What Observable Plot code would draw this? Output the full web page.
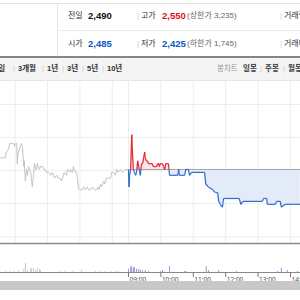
<!DOCTYPE html>
<html><head><meta charset="utf-8">
<script src="https://cdn.jsdelivr.net/npm/d3@7"></script>
<script src="https://cdn.jsdelivr.net/npm/@observablehq/plot@0.6"></script>
<style>
body{margin:0;background:#fff;}
#root{position:relative;width:300px;height:300px;overflow:hidden;font-family:"Liberation Sans","Noto Sans CJK KR",sans-serif;background:#fff;}
.t{position:absolute;white-space:nowrap;line-height:1;transform:translateY(-50%);}
.ln{position:absolute;}
.lab{font-size:8px;color:#333;}
.num{font-size:9.5px;font-weight:bold;color:#111;}
.sub{font-size:8px;color:#666;}
.sep{font-size:8px;color:#ccc;}
.tb{font-size:7.5px;font-weight:bold;color:#333;}
.tbl{font-size:7.5px;color:#999;}
.up{color:#e0101e;}
.dn{color:#0b55c8;}
#price,#vol{position:absolute;left:0;}
</style></head>
<body><div id="root"></div>
<script>
// ---- quote data ----
const prevClose = 2490, openPrice = 2485, highPrice = 2550, lowPrice = 2425;
const upperLimit = 3235, lowerLimit = 1745;
const periods = ["5일","3개월","1년","3년","5년","10년"];
const chartTypes = ["봉차트","일봉","주봉","월봉"];

// ---- previous session (minutes relative to today's open, gray) ----
const prevT = [-237,-228,-226,-222,-220,-213,-211,-209,-207,-206,-204,-202,-200,-198,-196,-194,-193,-191,-189,-187,-185,-183,-181,-180,-178,-176,-174,-172,-170,-169,-167,-165,-163,-159,-157,-154,-152,-148,-144,-141,-137,-133,-130,-126,-124,-122,-119,-115,-113,-109,-107,-104,-102,-100,-98,-96,-94,-93,-91,-85,-83,-80,-76,-74,-70,-67,-63,-59,-57,-54,-52,-50,-46,-44,-41,-37,-33,-31,-28,-24,-22,-19,-15,-11,-7,-4,0];
const prevP = [2510,2510,2520,2525,2535,2535,2530,2535,2535,2500,2520,2525,2530,2535,2525,2495,2505,2470,2490,2480,2495,2490,2485,2475,2460,2480,2500,2490,2490,2500,2495,2490,2495,2495,2490,2490,2485,2485,2480,2485,2475,2480,2475,2475,2470,2475,2485,2480,2490,2485,2490,2485,2495,2490,2485,2485,2470,2460,2455,2455,2460,2455,2460,2455,2455,2460,2455,2455,2460,2455,2465,2460,2470,2465,2475,2475,2475,2485,2485,2480,2490,2485,2490,2485,2490,2490,2490];

// ---- today (minutes since 09:00) ----
const todayT = [0,1,2,4,6,7,9,11,13,15,17,19,20,22,24,26,28,30,31,33,35,37,44,46,52,54,56,57,59,63,65,67,69,70,74,76,91,93,94,104,106,111,113,117,141,143,148,156,161,165,167,170,174,176,205,208,212,248,250,256,257,272,274,281,283,290,318];
const todayP = [2490,2460,2480,2490,2550,2525,2490,2485,2480,2485,2505,2495,2490,2480,2500,2500,2510,2520,2510,2505,2505,2500,2500,2495,2495,2500,2500,2495,2500,2500,2495,2490,2500,2500,2500,2480,2480,2490,2480,2480,2490,2490,2480,2485,2485,2465,2460,2455,2450,2450,2435,2430,2425,2440,2440,2430,2435,2435,2440,2440,2430,2430,2435,2435,2425,2430,2430];

// ---- volumes (thousand shares) ----
const prevVolT = [-228,-219,-211,-204,-194,-191,-187,-181,-180,-176,-172,-169,-165,-163,-126,-117,-104,-87,-61,-52,-43,-33,-24,-19];
const prevVol  = [3,3,3,6,10,28,6,13,10,13,6,13,10,6,3,3,3,6,3,3,3,3,3,3];
const todayVolT = [0,4,6,9,11,15,19,22,26,31,37,59,63,76,104,106,144,148,167,200,276,283,294,313];
const todayVol  = [10,16,19,13,16,10,10,6,6,6,3,3,6,18,3,3,18,6,6,3,3,13,6,3];

// ---- axis / grid ----
const priceGrid = [2602,2545,2488,2431,2374];
const timeGrid = [-210,-150,-90,-30,0,60,120,180,240,300];
const timeTicks = [0,60,120,180,240,300];
const timeLabels = ["09:00","10:00","11:00","12:00","13:00","14:00"];

const xDomain = [-237, 318.5];
const yDomain = [2362.4, 2643.4];

const fmt = d3.format(",");
const root = document.getElementById("root");
function add(html){ root.insertAdjacentHTML("beforeend", html); }
function line(l,t,w,h,c){ add(`<div class="ln" style="left:${l}px;top:${t}px;width:${w}px;height:${h}px;background:${c}"></div>`); }
function txt(l,y,cls,s){ add(`<span class="t ${cls}" style="left:${l}px;top:${y}px">${s}</span>`); }

// header frame
line(0,3,300,1,"#e2e2e2");
line(57,3,1,54,"#e4e4e4");
line(57,30,243,1,"#ececec");
line(0,58,300,22,"#f4f4f4");
line(0,56,300,2,"#858585");
line(0,80,300,1,"#e4e4e4");

// quote rows
txt(68,16,"lab","전일"); txt(88,16,"num",fmt(prevClose));
txt(137,16,"sep","|"); txt(141,16,"lab","고가"); txt(162,16,"num up",fmt(highPrice));
txt(187,16,"sub",`(상한가 ${fmt(upperLimit)})`); txt(280,16,"sep","|"); txt(284,16,"lab","거래량");
txt(68,44,"lab","시가"); txt(88,44,"num dn",fmt(openPrice));
txt(137,44,"sep","|"); txt(141,44,"lab","저가"); txt(162,44,"num dn",fmt(lowPrice));
txt(187,44,"sub",`(하한가 ${fmt(lowerLimit)})`); txt(280,44,"sep","|"); txt(284,44,"lab","거래대금");

// toolbar
const pLeft = [-6,18,47,67,87,107];
periods.forEach((p,i)=>{ txt(pLeft[i],69,"tb",p); if(i<periods.length-1) txt([13,42,62,82,102][i],69,"sep","|"); });
txt(217,69,"tbl",chartTypes[0]);
txt(243,69,"tb",chartTypes[1]); txt(260,69,"sep","|");
txt(265,69,"tb",chartTypes[2]); txt(283,69,"sep","|");
txt(288,69,"tb",chartTypes[3]);

// ---- price chart ----
const base = prevClose;
const prev = prevT.map((t,i)=>({t, p: prevP[i]}));
const pts = todayT.map((t,i)=>({t, p: todayP[i]}));
const dense = [];
pts.forEach((b,i)=>{
  if(i>0){ const a=pts[i-1];
    if((a.p-base)*(b.p-base)<0){ const f=(base-a.p)/(b.p-a.p); dense.push({t:a.t+f*(b.t-a.t), p:base}); } }
  dense.push(b);
});
const segs=[]; let last="dn";
for(let i=1;i<dense.length;i++){
  const a=dense[i-1], b=dense[i], m=(a.p+b.p)/2;
  const s = m>base?"up":m<base?"dn":last; last=s;
  segs.push({t1:a.t,p1:a.p,t2:b.t,p2:b.p,s});
}

const price = Plot.plot({
  width:300, height:164, marginTop:0, marginBottom:1, marginLeft:0, marginRight:0,
  style:{background:"transparent", overflow:"visible"},
  x:{domain:xDomain, axis:null},
  y:{domain:yDomain, axis:null},
  marks:[
    Plot.ruleY(priceGrid, {stroke:"#ededed", strokeWidth:1}),
    Plot.ruleX(timeGrid, {stroke:"#ededed", strokeWidth:1}),
    Plot.areaY(dense, {x:"t", y1:()=>base, y2:d=>Math.max(d.p,base), fill:"#fde4e7"}),
    Plot.areaY(dense, {x:"t", y1:()=>base, y2:d=>Math.min(d.p,base), fill:"#e3ebf8"}),
    Plot.ruleY([base], {x1:0, x2:xDomain[1], stroke:"#a5a5a5", strokeWidth:1}),
    Plot.line(prev, {x:"t", y:"p", stroke:"#c4c4c4", strokeWidth:1}),
    Plot.link(segs, {x1:"t1", y1:"p1", x2:"t2", y2:"p2", stroke:d=>d.s==="up"?"#e3222c":"#2e6bd1", strokeWidth:1.2}),
    Plot.ruleY([yDomain[0]], {stroke:"#8a8a8a", strokeWidth:1.5})
  ]
});
price.id="price"; price.style.top="80px";
root.appendChild(price);

// ---- volume + time axis ----
const prevV = prevVolT.map((t,i)=>({t, v: prevVol[i]}));
const todV = todayVolT.map((t,i)=>({t, v: todayVol[i]}));
const vol = Plot.plot({
  width:300, height:38, marginTop:0, marginBottom:9, marginLeft:0, marginRight:0,
  style:{background:"transparent", overflow:"visible"},
  x:{domain:xDomain, axis:null},
  y:{domain:[0,90], axis:null},
  marks:[
    Plot.ruleX(prevV, {x:"t", y1:0, y2:"v", stroke:"#c9c9c9", strokeWidth:1}),
    Plot.ruleX(todV, {x:"t", y1:0, y2:"v", stroke:"#9d93d8", strokeWidth:1}),
    Plot.ruleY([0], {stroke:"#8a8a8a", strokeWidth:1}),
    Plot.ruleX(timeTicks, {x:d=>d, y1:()=>0, y2:()=>0, insetBottom:-5, stroke:"#777", strokeWidth:1}),
    Plot.text(timeTicks, {x:d=>d, y:()=>0, text:(d,i)=>timeLabels[i], dy:7, dx:1, textAnchor:"start", fontSize:6.5, fill:"#555"})
  ]
});
vol.id="vol"; vol.style.top="243px";
root.appendChild(vol);

// scroll band
line(0,281,300,9,"#c8c8c8");
</script>
</body></html>
